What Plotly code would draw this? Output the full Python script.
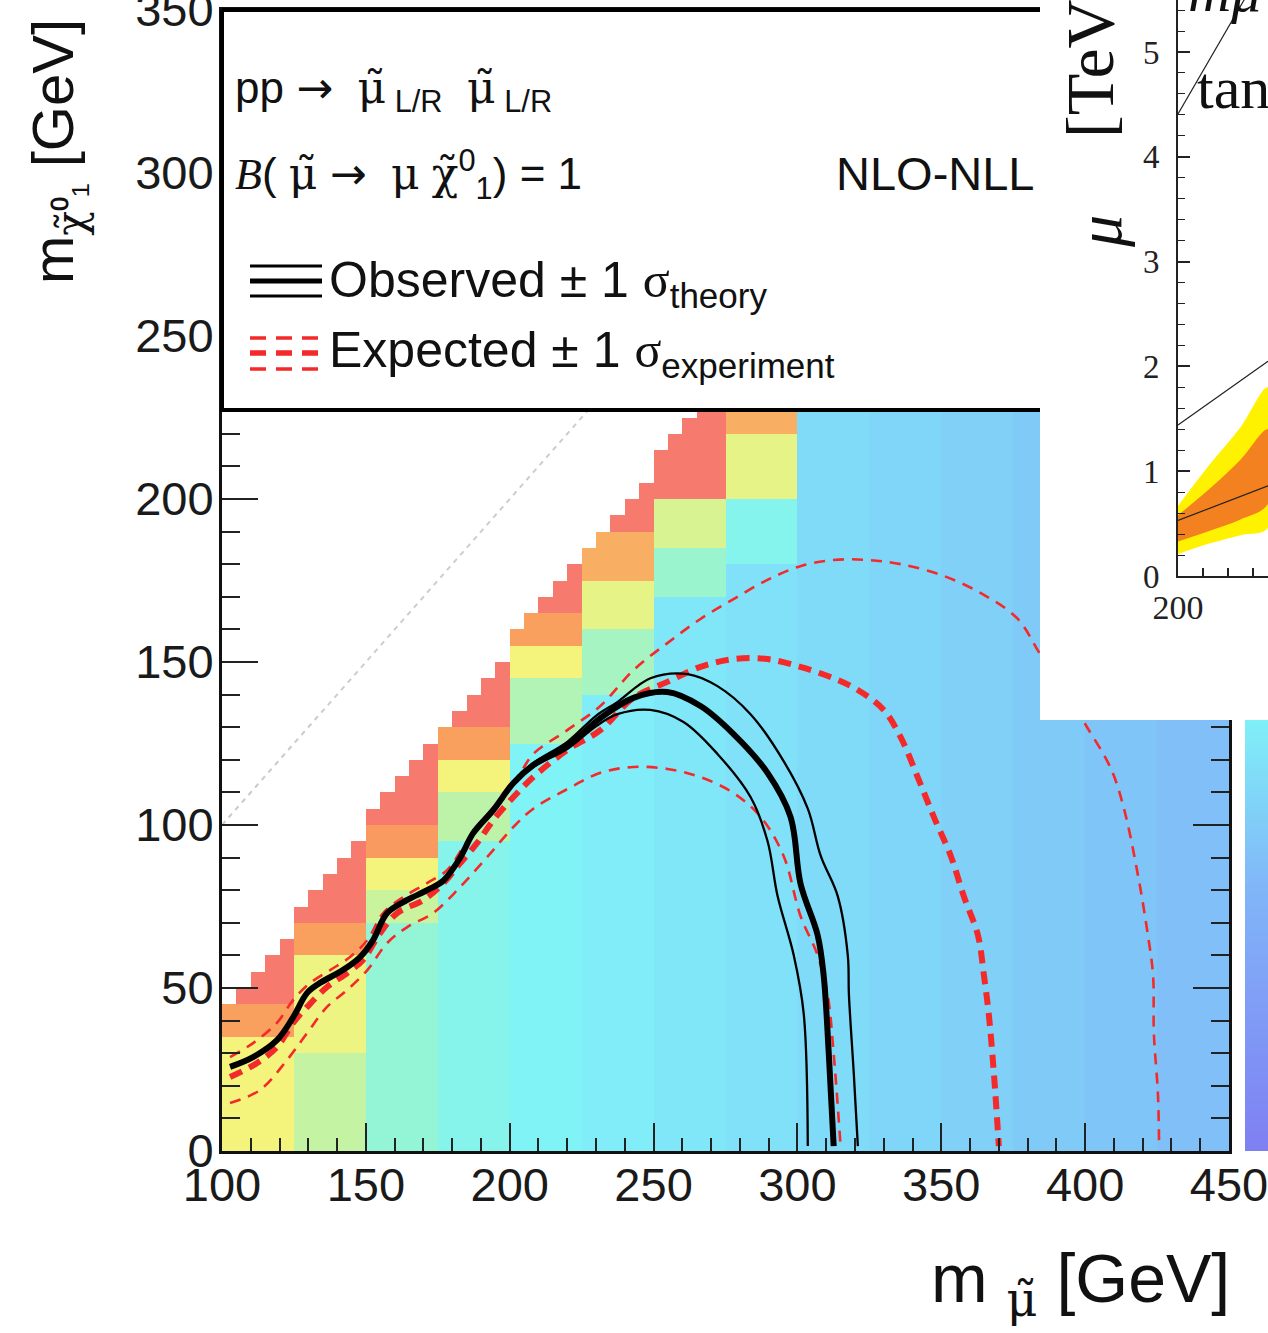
import plotly.graph_objects as go

W, H = 1268, 1333


def px_x(p):
    return p / W


def px_y(p):
    return (H - p) / H


# ---------------- data: main exclusion plot ----------------
HM_X_EDGES = list(range(100, 455, 5))
HM_Y_EDGES = list(range(0, 355, 5))
# top of the coloured region in each 5 GeV slepton-mass column
TOP_N = [45, 50, 55, 60, 65, 75, 80, 85, 90, 95, 105, 110, 115, 120, 125,
         130, 135, 140, 145, 150, 160, 165, 170, 175, 180, 185, 190, 195, 200, 205,
         215, 220, 225, 230, 235] + [350] * 35
# colour value bands (start of band in neutralino mass, value) for each 25 GeV column
COL_BANDS = [
    [(0, 0.76), (35, 0.88), (45, 1.0)],
    [(0, 0.69), (30, 0.75), (60, 0.88), (70, 1.0)],
    [(0, 0.61), (70, 0.70), (80, 0.76), (90, 0.90), (100, 1.0)],
    [(0, 0.565), (95, 0.68), (110, 0.76), (120, 0.88), (130, 1.0)],
    [(0, 0.535), (125, 0.66), (145, 0.76), (155, 0.88), (165, 1.0)],
    [(0, 0.51), (140, 0.64), (160, 0.74), (175, 0.86), (190, 1.0)],
    [(0, 0.49), (170, 0.62), (185, 0.72), (200, 1.0)],
    [(0, 0.47), (180, 0.56), (200, 0.74), (220, 0.86)],
    [(0, 0.45)],
    [(0, 0.43)],
    [(0, 0.41)],
    [(0, 0.39)],
    [(0, 0.37)],
    [(0, 0.35)],
]

OBS_M = [102.8, 110.8, 119.1, 124.7, 129.6, 134, 142, 148, 152.5, 157.4, 164.4, 171.3, 177, 182.8,
         187.3, 194.3, 201.3, 208.2, 220, 231.5, 243, 254.8, 266.3, 277.8, 289.6, 297.6, 301.1,
         307, 309.1, 310.9, 312.6]
OBS_N = [25.8, 28.8, 34, 41, 48.5, 51.5, 55.5, 59.5, 64.7, 73, 77, 80, 83, 90, 97.5, 104.6, 112.9,
         118.4, 124.2, 132.8, 139, 140.8, 136.5, 127.9, 116, 102.5, 81.9, 66.3, 54, 29.8, 1.5]

OBS_UP_M = [201.3, 208.2, 220, 230, 237.4, 248.9, 261.8, 272.2, 283.7, 295.2, 303.6,
            308.1, 314, 317.5, 317.9, 319.6, 321]
OBS_UP_N = [113.3, 119, 125.5, 133.5, 137.7, 145, 146.3, 142.6, 134, 119.6, 105, 90.5, 78.2, 60.1,
            47.9, 23.6, 1.5]

OBS_DN_M = [201.3, 208.2, 220, 230, 237.4, 248.9, 260.4, 272.2, 283.7, 289.6, 293.1,
            298.7, 302.2, 303.6]
OBS_DN_N = [112.5, 117.8, 123.3, 130.3, 134, 135.3, 131.6, 121.8, 108.6, 95.1, 78.2, 60.1, 42, 1.5]

EXP_M = [102.8, 112.2, 119.1, 124.7, 129.6, 136.5, 143.5, 149, 155, 160.9, 170, 177, 182.8, 188.7,
         194.3, 201.3, 208.2, 220, 231.5, 243, 254.8, 266.3, 277.8, 289.6, 301, 312.6, 321, 330,
         336, 341.8, 347.4, 353.3, 357.8, 362.7, 364.8, 366.5, 368.3, 370]
EXP_N = [22.7, 27, 31.9, 39.3, 44.2, 50.3, 54.6, 58.6, 66.9, 73, 77, 82.2, 88.3, 94.5, 101.5, 108.6,
         114.7, 123, 129.1, 139, 143.9, 148.5, 150.9, 150.9, 148.5, 145, 141.4, 135.3, 126.7,
         114.7, 102.5, 90.5, 78.2, 66.3, 54, 42, 23.6, 1.5]

EXP_DN_M = [102.8, 113.2, 122.6, 129.6, 136.5, 143.5, 150.5, 157.4, 164.4, 173.4, 182.8, 192.2,
            201.3, 208.2, 220, 231.5, 243, 254.8, 266.3, 277.8, 287.2, 295.2, 301.1, 307, 310.5,
            312.6, 315]
EXP_DN_N = [14.7, 18.7, 27.9, 36.2, 44.2, 49.4, 55.5, 63.8, 68.7, 73, 81, 90.2, 99.4, 105, 111,
            116, 117.8, 117.2, 114.7, 109.8, 102.5, 90.5, 72, 60.1, 47.9, 29.8, 1.5]

EXP_UP_M = [102.8, 110.8, 119.1, 124.7, 130.6, 137.6, 144.5, 150.5, 156, 163, 171.3, 178.3, 183.9,
            189.8, 196.7, 203.7, 208.2, 220, 231.5, 243, 254.8, 266.3, 277.8, 289.6, 301, 312.6,
            324.4, 336, 350.9, 364.8, 376.6, 384.6, 392, 399.6, 409, 413.5, 418.4, 421.8, 423.6,
            423.9, 425.3, 425.7]
EXP_UP_N = [28.8, 33.1, 39.3, 46.3, 51.5, 55.5, 59.5, 64.7, 73, 77.9, 82.2, 86.2, 93.3, 100.6,
            107.7, 116, 121.8, 129.1, 136.5, 147.5, 155.8, 163.2, 169.3, 175.2, 179.4, 181.3,
            181.3, 180, 176.4, 170.6, 163.2, 152.1, 143, 131.6, 117.2, 105, 84.4, 66.3, 54, 35.9,
            17.5, 1.5]

DIAG_M = [100, 227]
DIAG_N = [100, 227]

X_TICKS = [100, 150, 200, 250, 300, 350, 400, 450]
Y_TICKS = [0, 50, 100, 150, 200, 250, 300, 350]

# colour-bar ramp levels (bottom -> visible top)
CBAR_LEVELS = [0.0, 0.13, 0.26, 0.39, 0.52]

# ---------------- data: inset (mu vs mass) ----------------
IN_M = [200, 225, 250, 272]
IN_YEL_HI = [0.67, 1.06, 1.42, 1.80]
IN_YEL_LO = [0.21, 0.31, 0.39, 0.46]
IN_ORA_HI = [0.58, 0.83, 1.11, 1.40]
IN_ORA_LO = [0.33, 0.43, 0.54, 0.69]
IN_LINE_M = [200, 272]
IN_LINE_A = [4.41, 5.89]
IN_LINE_B = [1.44, 2.05]
IN_LINE_C = [0.53, 0.86]
IN_Y_TICKS = [0, 1, 2, 3, 4, 5]

CS = [
    [0.0, '#7f7ff2'], [0.32, '#80b6f8'], [0.36, '#80c2f8'], [0.41, '#80d0f8'],
    [0.46, '#80def8'], [0.50, '#80eaf8'], [0.54, '#80f4f6'], [0.60, '#8ef5dc'],
    [0.68, '#bcf3a8'], [0.76, '#f4f47c'], [0.88, '#f9a05e'], [1.0, '#f77a6e'],
]

# ---------------- heatmap grid ----------------
z = []
for j, n0 in enumerate(HM_Y_EDGES[:-1]):
    row = []
    for i, m0 in enumerate(HM_X_EDGES[:-1]):
        if n0 >= TOP_N[i]:
            row.append(None)
            continue
        v = None
        for ns, val in COL_BANDS[i // 5]:
            if n0 >= ns:
                v = val
        row.append(v)
    z.append(row)

fig = go.Figure()

# main subplot
fig.add_trace(go.Heatmap(x=HM_X_EDGES, y=HM_Y_EDGES, z=z, colorscale=CS, zmin=0, zmax=1,
                         showscale=False, hoverinfo='skip', xaxis='x', yaxis='y'))
fig.add_trace(go.Scatter(x=DIAG_M, y=DIAG_N, mode='lines',
                         line=dict(color='#cccccc', width=2, dash='5px,5px'),
                         xaxis='x', yaxis='y'))
RED = '#f42a2a'
for mm, nn in [(EXP_UP_M, EXP_UP_N), (EXP_DN_M, EXP_DN_N)]:
    fig.add_trace(go.Scatter(x=mm, y=nn, mode='lines',
                             line=dict(color=RED, width=2.6, dash='11px,8px', shape='spline',
                                       smoothing=1.0), xaxis='x', yaxis='y'))
fig.add_trace(go.Scatter(x=EXP_M, y=EXP_N, mode='lines',
                         line=dict(color=RED, width=6, dash='13px,8px', shape='spline',
                                   smoothing=1.0), xaxis='x', yaxis='y'))
for mm, nn in [(OBS_UP_M, OBS_UP_N), (OBS_DN_M, OBS_DN_N)]:
    fig.add_trace(go.Scatter(x=mm, y=nn, mode='lines',
                             line=dict(color='black', width=2.3, shape='spline', smoothing=1.0),
                             xaxis='x', yaxis='y'))
fig.add_trace(go.Scatter(x=OBS_M, y=OBS_N, mode='lines',
                         line=dict(color='black', width=6, shape='spline', smoothing=1.0),
                         xaxis='x', yaxis='y'))

# legend box subplot (pixel coordinates)
fig.add_trace(go.Scatter(x=[222, 1050, 1050, 222, 222], y=[10, 10, 410, 410, 10], mode='lines',
                         fill='toself', fillcolor='white', line=dict(color='black', width=4),
                         xaxis='x2', yaxis='y2'))
for yy, ww in [(266, 3), (281, 5), (296, 3)]:
    fig.add_trace(go.Scatter(x=[250, 322], y=[yy, yy], mode='lines',
                             line=dict(color='black', width=ww), xaxis='x2', yaxis='y2'))
for yy, ww in [(338, 3.5), (353, 5.5), (369, 3.5)]:
    fig.add_trace(go.Scatter(x=[250, 322], y=[yy, yy], mode='lines',
                             line=dict(color=RED, width=ww, dash='16px,10px'),
                             xaxis='x2', yaxis='y2'))
fig.add_trace(go.Scatter(x=[836], y=[178], mode='text', text=['NLO-NLL'],
                         textposition='middle right', cliponaxis=True,
                         textfont=dict(family='Liberation Sans', size=47, color='#111'),
                         xaxis='x2', yaxis='y2'))

# colour bar strip
fig.add_trace(go.Heatmap(z=[[v, v] for v in CBAR_LEVELS], x=[0, 1], y=list(range(len(CBAR_LEVELS))),
                         colorscale=CS, zmin=0, zmax=1, zsmooth='best', showscale=False,
                         hoverinfo='skip', xaxis='x3', yaxis='y3'))

# inset mask
fig.add_trace(go.Scatter(x=[0, 1, 1, 0, 0], y=[0, 0, 1, 1, 0], mode='lines', fill='toself',
                         fillcolor='white', line=dict(width=0, color='white'),
                         xaxis='x4', yaxis='y4'))

# inset content
fig.add_trace(go.Scatter(x=IN_M + IN_M[::-1], y=IN_YEL_HI + IN_YEL_LO[::-1], mode='lines',
                         fill='toself', fillcolor='#fff200', line=dict(width=0, shape='spline'),
                         xaxis='x5', yaxis='y5'))
fig.add_trace(go.Scatter(x=IN_M + IN_M[::-1], y=IN_ORA_HI + IN_ORA_LO[::-1], mode='lines',
                         fill='toself', fillcolor='#f48120', line=dict(width=0, shape='spline'),
                         xaxis='x5', yaxis='y5'))
for yy in [IN_LINE_A, IN_LINE_B, IN_LINE_C]:
    fig.add_trace(go.Scatter(x=IN_LINE_M, y=yy, mode='lines', line=dict(color='#222', width=1.2),
                             xaxis='x5', yaxis='y5'))

SANS = 'Liberation Sans'
SERIF = 'Liberation Serif'
TXT = '#111111'

main_tick_font = dict(family=SANS, size=47, color='#1a1a1a')
hidden = dict(visible=False, automargin=False, fixedrange=True)
layout = dict(
    width=W, height=H, autosize=False, margin=dict(l=0, r=0, t=0, b=0, pad=0, autoexpand=False),
    paper_bgcolor='white', plot_bgcolor='rgba(0,0,0,0)', showlegend=False, hovermode=False,
    xaxis=dict(domain=[px_x(222), px_x(1229)], range=[100, 450], anchor='y', automargin=False,
               tickmode='array', tickvals=X_TICKS, ticks='inside', ticklen=28, tickwidth=2,
               tickcolor='#222', minor=dict(ticks='inside', ticklen=13, tickwidth=1.5,
                                            tickcolor='#222', dtick=10, tick0=100),
               showline=True, linecolor='#111', linewidth=3, mirror='ticks', showgrid=False,
               zeroline=False, tickfont=main_tick_font, ticklabelstandoff=-9,
               ticklabeloverflow='allow'),
    yaxis=dict(domain=[px_y(1151), px_y(10)], range=[0, 350], anchor='x', automargin=False,
               tickmode='array', tickvals=Y_TICKS, ticks='inside', ticklen=36, tickwidth=2,
               tickcolor='#222', minor=dict(ticks='inside', ticklen=18, tickwidth=1.5,
                                            tickcolor='#222', dtick=10, tick0=0),
               showline=True, linecolor='#111', linewidth=3, mirror='ticks', showgrid=False,
               zeroline=False, tickfont=main_tick_font, ticklabelstandoff=-4,
               ticklabeloverflow='allow'),
    xaxis2=dict(domain=[px_x(216), px_x(1040)], range=[216, 1040], anchor='y2', **hidden),
    yaxis2=dict(domain=[px_y(415), px_y(5)], range=[415, 5], anchor='x2', **hidden),
    xaxis3=dict(domain=[px_x(1245), 1.0], range=[0.5, 1], anchor='y3', **hidden),
    yaxis3=dict(domain=[px_y(1151), px_y(720)], range=[0, len(CBAR_LEVELS) - 1], anchor='x3',
                **hidden),
    xaxis4=dict(domain=[px_x(1040), 1.0], range=[0, 1], anchor='y4', **hidden),
    yaxis4=dict(domain=[px_y(720), 1.0], range=[0, 1], anchor='x4', **hidden),
    xaxis5=dict(domain=[px_x(1178), 1.0], range=[200, 272], anchor='y5', automargin=False,
                tickmode='array', tickvals=[200], ticktext=['200'], ticks='inside', ticklen=10,
                tickwidth=1.5, tickcolor='#222',
                minor=dict(ticks='inside', ticklen=8, tickwidth=1.5, tickcolor='#222', dtick=20,
                           tick0=200),
                showline=True, linecolor='#222', linewidth=2, showgrid=False, zeroline=False,
                tickfont=dict(family=SERIF, size=34, color='#222'), ticklabelstandoff=0,
                ticklabeloverflow='allow'),
    yaxis5=dict(domain=[px_y(576), 1.0], range=[0, 576 / 104.8], anchor='x5', automargin=False,
                tickmode='array', tickvals=IN_Y_TICKS, ticks='inside', ticklen=12, tickwidth=1.5,
                tickcolor='#222',
                minor=dict(ticks='inside', ticklen=7, tickwidth=1.2, tickcolor='#222', dtick=0.2,
                           tick0=0),
                showline=True, linecolor='#222', linewidth=2, showgrid=False, zeroline=False,
                tickfont=dict(family=SERIF, size=33, color='#222'), ticklabelstandoff=10,
                ticklabeloverflow='allow'),
)
fig.update_layout(**layout)

MU = "<span style='font-family:DejaVu Serif'>μ̃</span>"
CHI = "<span style='font-family:DejaVu Serif'>χ̃</span>"
ARR = "<span style='font-family:DejaVu Sans'>→</span>"
SP = "&nbsp;"


def ann(text, x, y, size, xanchor='left', yanchor='middle', family=SANS, angle=0, color=TXT):
    fig.add_annotation(text=text, x=px_x(x), y=px_y(y), xref='paper', yref='paper',
                       showarrow=False, xanchor=xanchor, yanchor=yanchor, textangle=angle,
                       align='left', font=dict(family=family, size=size, color=color))


ann("pp " + ARR + SP + " " + MU + "<sub>" + SP + "L/R</sub>" + SP + " " + MU + "<sub>" + SP
    + "L/R</sub>", 233, 90, 44)
ann("<span style='font-family:Liberation Serif'><i>B</i></span>(" + SP + MU + SP + ARR + SP
    + SP + "<span style='font-family:DejaVu Serif'>μ</span>" + SP + CHI
    + "<sup>0</sup><sub>1</sub>) = 1", 233, 175, 44)
ann("Observed ± 1 <span style='font-family:Liberation Serif'>σ</span><sub>theory</sub>",
    327, 283, 50)
ann("Expected ± 1 <span style='font-family:Liberation Serif'>σ</span><sub>experiment</sub>",
    327, 353, 50)

# axis titles
ann("m <sub>" + MU + "</sub> [GeV]", 1232, 1283, 68, xanchor='right')
ann("m<sub>" + CHI + "⁰₁</sub> [GeV]", 57, 152, 58, xanchor='center', angle=-90)

# inset texts
ann("<i>μ</i>", 1100, 232, 64, xanchor='center', family=SERIF, angle=-90)
ann("[TeV]", 1090, 58, 68, xanchor='center', family=SERIF, angle=-90)
ann("tan <i>β</i>", 1195, 88, 60, family=SERIF)
ann("<i>mμ</i>", 1186, 26, 60, family=SERIF, yanchor='bottom')

fig.write_html("out.html")
